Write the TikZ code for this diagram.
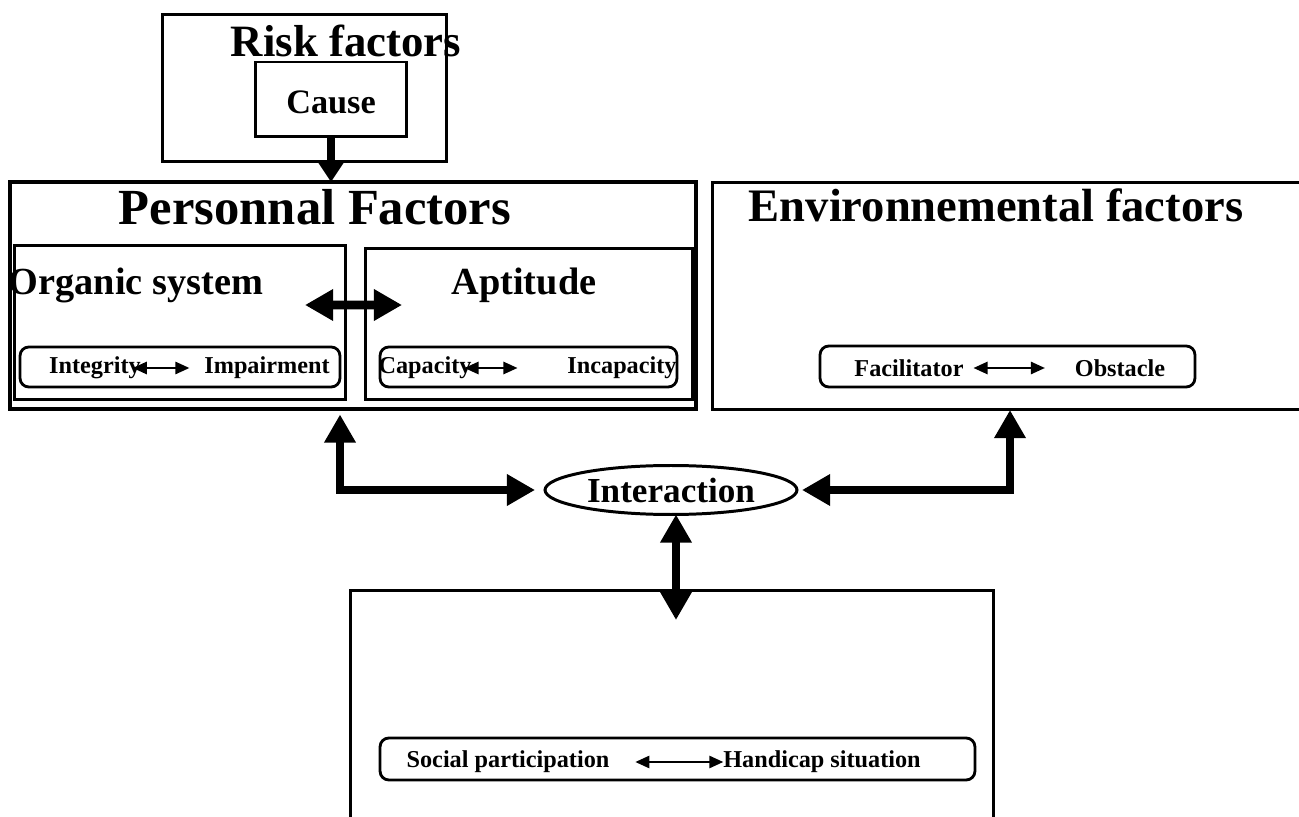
\documentclass[tikz,border=0pt]{standalone}
\usepackage{fontspec}
\setmainfont{Liberation Serif}
\usetikzlibrary{arrows.meta,shapes.geometric}
\tikzstyle{every node}=[font=\bfseries,inner sep=0pt,outer sep=0pt]
\tikzstyle{box} = [draw,line width=1.7pt,rectangle]
\tikzstyle{roundbox} = [draw,line width=1.6pt,rectangle,rounded corners=5pt]
\tikzstyle{bigboth} = [line width=5pt,{Triangle[length=16pt,width=17pt]}-{Triangle[length=16pt,width=17pt]}]
\tikzstyle{bigarrow} = [line width=5pt,-{Triangle[length=12pt,width=15pt]}]
\tikzstyle{smallboth} = [line width=1.1pt,{Triangle[length=8pt,width=7pt]}-{Triangle[length=8pt,width=7pt]}]
\tikzstyle{huge} = [font=\fontsize{28.8}{30}\bfseries\selectfont]
\tikzstyle{large} = [font=\fontsize{25.5}{27}\bfseries\selectfont]
\tikzstyle{mid} = [font=\fontsize{21.8}{23}\bfseries\selectfont]
\tikzstyle{sub} = [font=\fontsize{19.5}{21}\bfseries\selectfont]
\tikzstyle{small} = [font=\fontsize{13.8}{15}\bfseries\selectfont]

\begin{document}
\begin{tikzpicture}[x=0.02cm,y=-0.02cm]
\useasboundingbox (0,0) rectangle (1299,817);

% risk factors
\node[box,minimum width=5.7cm,minimum height=2.96cm] (risk) at (304.5,88) {};
\node[large] (risktitle) at (346,41) {Risk factors};
\node[box,minimum width=3.02cm,minimum height=1.5cm] (cause) at (331,99.5) {};
\node[sub] (causetxt) at (331,102) {Cause};

% personal factors
\node[box,line width=2.2pt,minimum width=13.72cm,minimum height=4.54cm] (personal) at (353,295.5) {};
\node[huge] (perstitle) at (315,207) {Personnal Factors};
\node[box,minimum width=6.64cm,minimum height=3.1cm] (organic) at (180,322.5) {};
\node[mid] (orgtitle) at (136,285) {Organic system};
\node[box,minimum width=6.56cm,minimum height=3.04cm] (aptitude) at (529,324) {};
\node[mid] (apttitle) at (524,285) {Aptitude};
\node[roundbox,minimum width=6.4cm,minimum height=0.8cm] (intbox) at (180,367) {};
\node[small] (integ) at (95,368) {Integrity};
\node[small] (impair) at (267,368) {Impairment};
\node[roundbox,minimum width=5.94cm,minimum height=0.8cm] (capbox) at (528.5,367) {};
\node[small] (capac) at (425,368) {Capacity};
\node[small] (incap) at (622,368) {Incapacity};

% environmental factors
\node[box,minimum width=12.16cm,minimum height=4.56cm] (env) at (1016,296) {};
\node[large,font=\fontsize{26.5}{28}\bfseries\selectfont] (envtitle) at (996,205) {Environnemental factors};
\node[roundbox,minimum width=7.5cm,minimum height=0.82cm] (facbox) at (1007.5,366.5) {};
\node[small] (facil) at (909,368) {Facilitator};
\node[small] (obst) at (1120,368) {Obstacle};

% interaction
\node[draw,ellipse,line width=1.7pt,minimum width=5.04cm,minimum height=0.98cm] (inter) at (671,490) {};
\node[sub,font=\fontsize{20}{22}\bfseries\selectfont] (intertxt) at (671,490) {Interaction};

% participation
\node[box,minimum width=12.88cm,minimum height=5cm] (bottom) at (672,715) {};
\node[roundbox,minimum width=11.9cm,minimum height=0.84cm] (socbox) at (677.5,759) {};
\node[small] (social) at (508,762) {Social participation};
\node[small] (handi) at (822,762) {Handicap situation};

% arrows
\draw[bigarrow] (cause.south) -- (cause.south |- personal.north);
\draw[bigboth] ([xshift=-0.82cm,yshift=0.35cm]organic.east) -- ([xshift=0.74cm,yshift=0.38cm]aptitude.west);
\draw[bigboth] ([xshift=-0.26cm,yshift=-0.11cm]personal.south) |- ([xshift=-0.2cm]inter.west);
\draw[bigboth] ([xshift=-0.12cm]env.south) |- ([xshift=0.1cm]inter.east);
\draw[bigboth] ([xshift=0.1cm]inter.south) -- ([xshift=0.1cm,yshift=-0.6cm]inter.south |- bottom.north);

% small arrows
\draw[smallboth] ([xshift=-0.16cm]integ.east) -- ([xshift=-0.3cm]impair.west);
\draw[smallboth] ([xshift=-0.14cm]capac.east) -- ([xshift=-1.0cm]incap.west);
\draw[smallboth] ([xshift=0.2cm]facil.east) -- ([xshift=-0.6cm]obst.west);
\draw[smallboth] ([xshift=0.52cm]social.east) -- (handi.west);

\end{tikzpicture}
\end{document}
